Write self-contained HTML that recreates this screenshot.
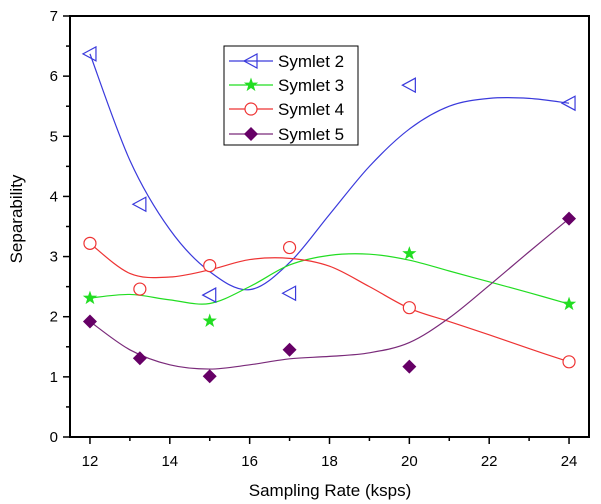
<!DOCTYPE html>
<html><head><meta charset="utf-8"><style>
body{margin:0;background:#fff;}
svg{display:block;font-family:"Liberation Sans",Arial,sans-serif;}
</style></head><body>
<svg id="chart" width="601" height="504" viewBox="0 0 601 504"></svg>
<script>
const xCats=[12,13.25,15,17,20,24];
const s2=[6.37,3.87,2.36,2.39,5.85,5.55];
const s3x=[12,15,20,24];
const s3=[2.31,1.93,3.05,2.21];
const s4=[3.22,2.46,2.85,3.15,2.15,1.25];
const s5=[1.92,1.31,1.01,1.45,1.17,3.63];
const curveX=[12,13,14,15,16,17,18,19,20,21,22,23,24];
const c2=[6.37,4.6,3.45,2.75,2.45,2.9,3.7,4.5,5.12,5.5,5.63,5.63,5.55];
const c3=[2.31,2.37,2.28,2.22,2.5,2.86,3.02,3.04,2.94,2.76,2.58,2.4,2.21];
const c4=[3.22,2.72,2.66,2.78,2.95,2.97,2.84,2.5,2.14,1.92,1.7,1.47,1.25];
const c5=[1.92,1.45,1.2,1.13,1.2,1.3,1.34,1.4,1.57,1.98,2.52,3.08,3.63];
const xTicks=[12,14,16,18,20,22,24];
const yTicks=[0,1,2,3,4,5,6,7];
const L=70,R=589,T=16,B=437;
const sx=v=>L+(v-11.5)/(24.5-11.5)*(R-L);
const sy=v=>B-(v-0)/(7-0)*(B-T);
const svg=document.getElementById('chart');
const NS='http://www.w3.org/2000/svg';
function mk(tag,attrs,parent){const e=document.createElementNS(NS,tag);for(const k in attrs)e.setAttribute(k,attrs[k]);(parent||svg).appendChild(e);return e;}
let f=mk('rect',{x:L,y:T,width:R-L,height:B-T,fill:'none',stroke:'#000','stroke-width':2});


for(let v=12;v<=24;v+=1){const major=v%2===0;let t=mk('line',{x1:sx(v),x2:sx(v),y1:B,y2:B+(major?7:4),stroke:'#000','stroke-width':1.5});

}
xTicks.forEach(v=>{let t=mk('text',{x:sx(v),y:B+29,'text-anchor':'middle','font-size':15,fill:'#000'});t.textContent=v;

});
for(let v=0;v<=7;v+=0.5){const major=v%1===0;let t=mk('line',{x1:L-(major?7:4),x2:L,y1:sy(v),y2:sy(v),stroke:'#000','stroke-width':1.5});

}
yTicks.forEach(v=>{let t=mk('text',{x:L-12,y:sy(v)+5,'text-anchor':'end','font-size':15,fill:'#000'});t.textContent=v;

});
let xt=mk('text',{x:330,y:496,'text-anchor':'middle','font-size':17});xt.textContent='Sampling Rate (ksps)';


let yt=mk('text',{x:0,y:0,'text-anchor':'middle','font-size':17,transform:'translate(22,219) rotate(-90)'});yt.textContent='Separability';


function pathFor(xs,ys){const p=xs.map((x,i)=>[sx(x),sy(ys[i])]);let d='M'+p[0][0]+','+p[0][1];
for(let i=0;i<p.length-1;i++){const p0=p[Math.max(0,i-1)],p1=p[i],p2=p[i+1],p3=p[Math.min(p.length-1,i+2)];
d+=' C'+(p1[0]+(p2[0]-p0[0])/6)+','+(p1[1]+(p2[1]-p0[1])/6)+' '+(p2[0]-(p3[0]-p1[0])/6)+','+(p2[1]-(p3[1]-p1[1])/6)+' '+p2[0]+','+p2[1];}
return d;}
const cols={s2:'#3a3adc',s3:'#22dd22',s4:'#ee3333',s5:'#660066'};
const lineCols={s2:'#3a3adc',s3:'#22dd22',s4:'#ee3333',s5:'#7a2a7a'};
[[c2,'s2'],[c3,'s3'],[c4,'s4'],[c5,'s5']].forEach(([c,k])=>{let p=mk('path',{d:pathFor(curveX,c),fill:'none',stroke:lineCols[k],'stroke-width':1.2});

});
function marker(type,cx,cy,g){
 if(type==='tri')return mk('polygon',{points:`${cx-7},${cy} ${cx+6},${cy-7} ${cx+6},${cy+7}`,fill:'none',stroke:cols.s2,'stroke-width':1.2},g);
 if(type==='star'){let pts=[];for(let i=0;i<10;i++){const r=i%2?3:7.5,a=-Math.PI/2+i*Math.PI/5;pts.push((cx+r*Math.cos(a))+','+(cy+r*Math.sin(a)));}return mk('polygon',{points:pts.join(' '),fill:cols.s3},g);}
 if(type==='circ')return mk('circle',{cx,cy,r:6,fill:'#fff',stroke:cols.s4,'stroke-width':1.2},g);
 return mk('polygon',{points:`${cx},${cy-7} ${cx+7},${cy} ${cx},${cy+7} ${cx-7},${cy}`,fill:cols.s5},g);
}
function pts(xs,ys,type,name){xs.forEach((x,i)=>{let m=marker(type,sx(x),sy(ys[i]));

});}
pts(xCats,s2,'tri','symlet2');pts(s3x,s3,'star','symlet3');pts(xCats,s4,'circ','symlet4');pts(xCats,s5,'dia','symlet5');
let lg=mk('g',{});


mk('rect',{x:224,y:46,width:134,height:99,fill:'#fff',stroke:'#000','stroke-width':1},lg);
[['Symlet 2','tri','s2',61],['Symlet 3','star','s3',85],['Symlet 4','circ','s4',109],['Symlet 5','dia','s5',134]].forEach(([lab,type,k,y])=>{
 let g=mk('g',{},lg);
 
 
 mk('line',{x1:229,x2:273,y1:y,y2:y,stroke:lineCols[k],'stroke-width':1.2},g);
 marker(type,251,y,g);
 let t=mk('text',{x:278,y:y+6,'font-size':17},g);t.textContent=lab;
});
</script>
</body></html>
